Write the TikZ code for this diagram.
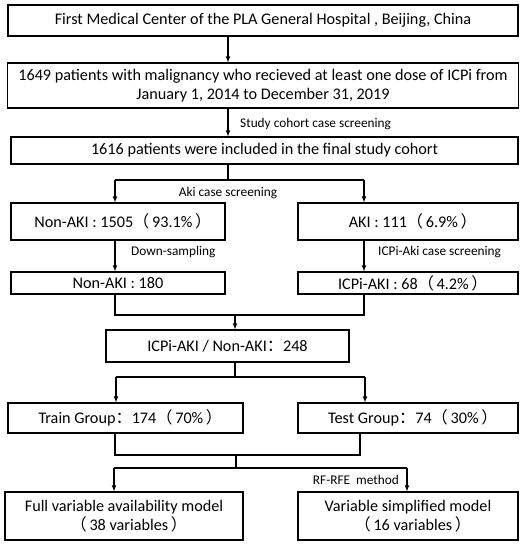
\documentclass[tikz,border=0pt]{standalone}
\usepackage{fontspec}
\setmainfont{Carlito}
\newfontfamily\cjk{Noto Sans CJK SC}
\newcommand{\fwl}{{\cjk （}\,}
\newcommand{\fwr}{\,{\cjk ）}\kern-0.6em}
\newcommand{\fwc}{{\cjk ：}}
\usetikzlibrary{positioning}
\tikzset{
  box/.style={draw, line width=1.1pt, inner sep=0pt, align=center,
    font=\fontsize{16.2}{19}\selectfont},
  note/.style={inner sep=0pt, font=\fontsize{13.3}{15}\selectfont},
  link/.style={line width=1.1pt},
}
\begin{document}
\begin{tikzpicture}[x=1pt, y=-1pt, >=latex]
    \useasboundingbox[fill=white] (0,0) rectangle (528,550);

    % 1. Các hộp
    \node[box, minimum width=510, minimum height=31] (hosp) at (263,20.5)
        {First Medical Center of the PLA General Hospital , Beijing, China};
    \node[box, minimum width=511, minimum height=45] (all) at (263,85.5)
        {1649 patients with malignancy who recieved at least one dose of ICPi from\\
         January 1, 2014 to December 31, 2019};
    \node[box, minimum width=507, minimum height=27] (cohort) at (264.5,150.5)
        {1616 patients were included in the final study cohort};
    \node[box, minimum width=214, minimum height=37] (nonaki) at (118,221.5)
        {Non-AKI : 1505\fwl 93.1\%\fwr};
    \node[box, minimum width=220, minimum height=37] (aki) at (408,221.5)
        {AKI : 111\fwl 6.9\%\fwr};
    \node[box, minimum width=214, minimum height=22] (nonsub) at (118,283)
        {Non-AKI : 180};
    \node[box, minimum width=220, minimum height=22] (icpaki) at (408,283)
        {ICPi-AKI : 68\fwl 4.2\%\fwr};
    \node[box, minimum width=243, minimum height=32] (pool) at (227.5,346)
        {ICPi-AKI / Non-AKI\fwc 248};
    \node[box, minimum width=235, minimum height=30] (train) at (125.5,418)
        {Train Group\fwc 174\fwl 70\%\fwr};
    \node[box, minimum width=220, minimum height=30] (test) at (408,418)
        {Test Group\fwc 74\fwl 30\%\fwr};
    \node[box, minimum width=238, minimum height=48] (full) at (124,516)
        {Full variable availability model\\ \fwl 38 variables\fwr};
    \node[box, minimum width=220, minimum height=48] (simple) at (408,516)
        {Variable simplified model\\ \fwl 16 variables\fwr};

    % 2. Các điểm nối
    \coordinate (c1) at (228,180);
    \coordinate (c1l) at (115,180);
    \coordinate (c1r) at (364,180);
    \coordinate (c2) at (235,315);
    \coordinate (c2l) at (115,315);
    \coordinate (c2r) at (364,315);
    \coordinate (c3) at (235,377);
    \coordinate (c3l) at (116,377);
    \coordinate (c3r) at (365,377);
    \coordinate (c4) at (236,455);
    \coordinate (c4l) at (115,455);
    \coordinate (c4r) at (360,455);
    \coordinate (c5) at (236,468);
    \coordinate (c5l) at (114,468);
    \coordinate (c5r) at (407,468);

    % 3. Mũi tên
    \draw[link, ->] (hosp.south -| c1) -- (all.north -| c1);
    \draw[link, ->] (all.south -| c1) -- (cohort.north -| c1);
    \draw[link] (cohort.south -| c1) -- (c1);
    \draw[link] (c1l) -- (c1r);
    \draw[link, ->] (c1l) -- (nonaki.north -| c1l);
    \draw[link, ->] (c1r) -- (aki.north -| c1r);
    \draw[link, ->] (nonaki.south -| c1l) -- (nonsub.north -| c1l);
    \draw[link, ->] (aki.south -| c1r) -- (icpaki.north -| c1r);

    \draw[link] (nonsub.south -| c2l) -- (c2l) -- (c2r) -- (icpaki.south -| c2r);
    \draw[link, ->] (c2) -- (pool.north -| c2);

    \draw[link] (pool.south -| c3) -- (c3);
    \draw[link] (c3l) -- (c3r);
    \draw[link, ->] (c3l) -- (train.north -| c3l);
    \draw[link, ->] (c3r) -- (test.north -| c3r);

    \draw[link] (train.south -| c4l) -- (c4l) -- (c4r) -- (test.south -| c4r);
    \draw[link] (c4) -- (c5);
    \draw[link] (c5l) -- (c5r);
    \draw[link, ->] (c5l) -- (full.north -| c5l);
    \draw[link, ->] (c5r) -- (simple.north -| c5r);

    % 4. Nhãn bước sàng lọc
    \node[note, anchor=west] (lcohort) at (240,124) {Study cohort case screening};
    \node[note] (laki) at (228,193) {Aki case screening};
    \node[note, anchor=west] (ldown) at (131,252) {Down-sampling};
    \node[note, anchor=west] (licp) at (378,252) {ICPi-Aki case screening};
    \node[note, anchor=east] (lrf) at (399,480) {RF-RFE\ \ method};

\end{tikzpicture}
\end{document}
